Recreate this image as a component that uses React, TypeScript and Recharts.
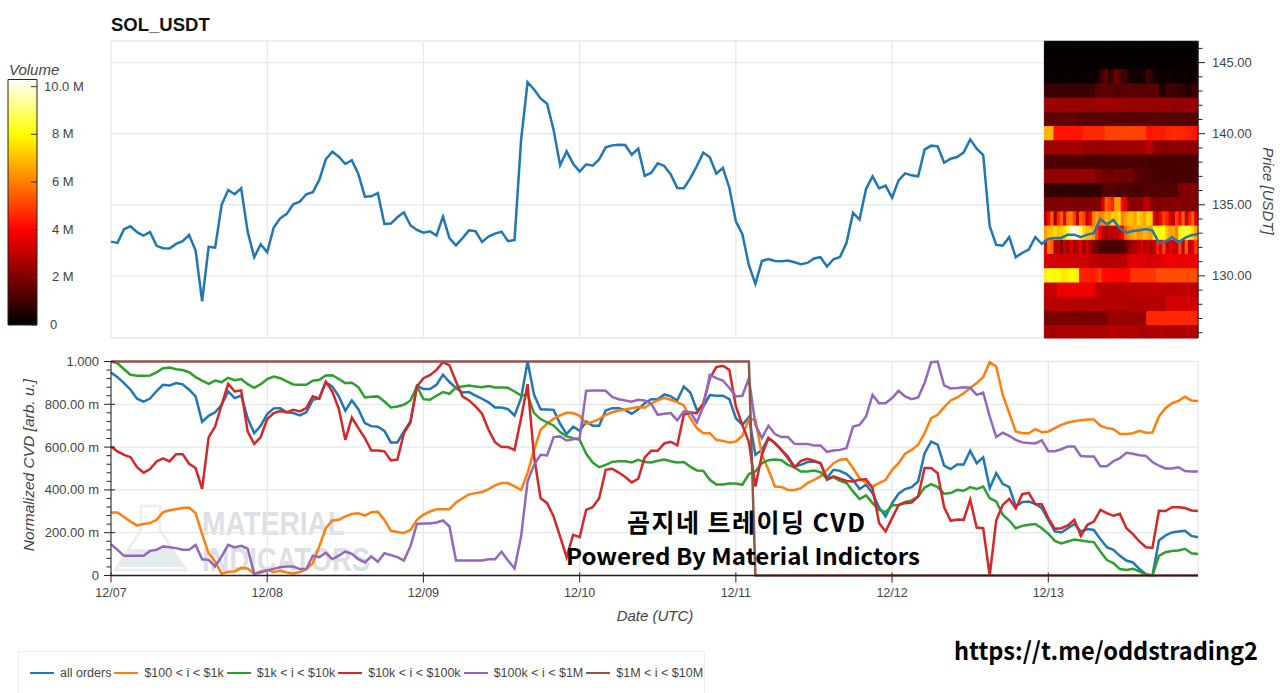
import { BarChart, Bar, LineChart, Line, XAxis, YAxis, CartesianGrid, ReferenceArea, Legend } from 'recharts';

const hours = [
  0, 1, 2, 3, 4, 5, 6, 7, 8, 9, 10, 11, 12, 13, 14, 15, 16, 17, 18, 19, 20, 21, 22, 23,
  24, 25, 26, 27, 28, 29, 30, 31, 32, 33, 34, 35, 36, 37, 38, 39, 40, 41, 42, 43, 44, 45, 46, 47,
  48, 49, 50, 51, 52, 53, 54, 55, 56, 57, 58, 59, 60, 61, 62, 63, 64, 65, 66, 67, 68, 69, 70, 71,
  72, 73, 74, 75, 76, 77, 78, 79, 80, 81, 82, 83, 84, 85, 86, 87, 88, 89, 90, 91, 92, 93, 94, 95,
  96, 97, 98, 99, 100, 101, 102, 103, 104, 105, 106, 107, 108, 109, 110, 111, 112, 113, 114, 115, 116, 117, 118, 119,
  120, 121, 122, 123, 124, 125, 126, 127, 128, 129, 130, 131, 132, 133, 134, 135, 136, 137, 138, 139, 140, 141, 142, 143,
  144, 145, 146, 147, 148, 149, 150, 151, 152, 153, 154, 155, 156, 157, 158, 159, 160, 161, 162, 163, 164, 165, 166, 167,
];

const price = [
  132.41, 132.32, 133.28, 133.49, 133.07, 132.83, 133.09, 132.11, 131.94, 131.92, 132.25, 132.44,
  132.88, 131.78, 128.2, 132.04, 131.99, 135.0, 136.04, 135.74, 136.16, 133.11, 131.31, 132.22,
  131.66, 133.4, 134.05, 134.36, 135.04, 135.22, 135.74, 135.88, 136.75, 138.2, 138.74, 138.38,
  137.87, 138.13, 137.17, 135.57, 135.6, 135.83, 133.65, 133.68, 134.12, 134.47, 133.56, 133.23,
  133.04, 133.14, 132.83, 134.17, 132.65, 132.15, 132.65, 133.2, 133.14, 132.39, 132.76, 132.97,
  133.11, 132.44, 132.53, 139.55, 143.63, 143.11, 142.48, 142.11, 140.26, 137.78, 138.76, 137.89,
  137.33, 137.85, 137.75, 138.2, 139.04, 139.18, 139.23, 139.2, 138.52, 138.95, 137.03, 137.26,
  137.92, 137.73, 137.14, 136.18, 136.16, 136.86, 137.73, 138.67, 138.34, 137.19, 137.59, 136.2,
  133.84, 132.93, 130.75, 129.44, 131.05, 131.19, 131.05, 131.03, 131.08, 130.96, 130.82, 130.91,
  131.22, 131.31, 130.66, 131.17, 131.33, 132.32, 134.43, 133.96, 136.11, 137.0, 136.16, 136.35,
  135.5, 136.72, 137.21, 137.07, 137.0, 138.88, 139.16, 139.11, 137.96, 138.24, 138.36, 138.69,
  139.6, 138.95, 138.5, 133.49, 132.18, 132.13, 132.72, 131.31, 131.62, 131.85, 132.72, 132.25,
  132.6, 132.67, 132.67, 132.9, 132.9, 132.72, 132.9, 133.0, 133.98, 133.63, 133.93, 133.35,
  133.04, 133.16, 133.21, 133.3, 133.18, 132.34, 132.39, 132.72, 132.34, 132.67, 132.86, 132.95,
];

const allOrders = [
  0.949, 0.927, 0.899, 0.868, 0.826, 0.812, 0.827, 0.862, 0.891, 0.888, 0.899, 0.893,
  0.868, 0.837, 0.718, 0.746, 0.763, 0.798, 0.86, 0.829, 0.841, 0.735, 0.665, 0.7,
  0.754, 0.781, 0.782, 0.763, 0.759, 0.748, 0.763, 0.821, 0.829, 0.904, 0.883, 0.837,
  0.77, 0.818, 0.777, 0.712, 0.698, 0.695, 0.676, 0.622, 0.622, 0.673, 0.72, 0.887,
  0.871, 0.871, 0.891, 0.938, 0.904, 0.876, 0.855, 0.857, 0.841, 0.826, 0.809, 0.785,
  0.785, 0.777, 0.748, 0.829, 1.0, 0.844, 0.777, 0.776, 0.774, 0.709, 0.661, 0.696,
  0.676, 0.72, 0.7, 0.7, 0.771, 0.782, 0.782, 0.773, 0.756, 0.777, 0.805, 0.824,
  0.824, 0.846, 0.837, 0.818, 0.883, 0.855, 0.774, 0.79, 0.843, 0.84, 0.84, 0.824,
  0.735, 0.704, 0.74, 0.564, 0.587, 0.642, 0.619, 0.587, 0.556, 0.509, 0.517, 0.53,
  0.533, 0.525, 0.455, 0.494, 0.489, 0.474, 0.447, 0.404, 0.424, 0.385, 0.318, 0.276,
  0.338, 0.382, 0.404, 0.413, 0.439, 0.572, 0.626, 0.611, 0.513, 0.497, 0.519, 0.519,
  0.583, 0.525, 0.552, 0.408, 0.478, 0.428, 0.413, 0.323, 0.343, 0.346, 0.335, 0.315,
  0.26, 0.206, 0.201, 0.221, 0.241, 0.206, 0.217, 0.213, 0.17, 0.132, 0.12, 0.092,
  0.07, 0.061, 0.03, 0.006, 0, 0.164, 0.187, 0.201, 0.206, 0.209, 0.185, 0.179,
];

const orders100to1k = [
  0.294, 0.294, 0.273, 0.252, 0.234, 0.241, 0.245, 0.26, 0.296, 0.305, 0.31, 0.315,
  0.318, 0.291, 0.193, 0.104, 0.065, 0.008, 0.017, 0.019, 0.036, 0.033, 0.008, 0.019,
  0.026, 0.017, 0.022, 0.014, 0.009, 0.016, 0.03, 0.058, 0.136, 0.221, 0.257, 0.26,
  0.276, 0.287, 0.291, 0.28, 0.296, 0.298, 0.26, 0.209, 0.203, 0.199, 0.213, 0.26,
  0.285, 0.299, 0.31, 0.31, 0.31, 0.341, 0.361, 0.379, 0.385, 0.39, 0.404, 0.421,
  0.432, 0.432, 0.416, 0.4, 0.478, 0.587, 0.681, 0.709, 0.732, 0.748, 0.76, 0.759,
  0.746, 0.709, 0.718, 0.731, 0.751, 0.763, 0.771, 0.776, 0.782, 0.787, 0.784, 0.805,
  0.818, 0.83, 0.821, 0.81, 0.795, 0.735, 0.689, 0.665, 0.665, 0.634, 0.629, 0.622,
  0.626, 0.653, 0.731, 0.728, 0.564, 0.494, 0.416, 0.414, 0.4, 0.4, 0.408, 0.432,
  0.447, 0.463, 0.494, 0.525, 0.541, 0.544, 0.502, 0.455, 0.432, 0.416, 0.432, 0.447,
  0.494, 0.525, 0.569, 0.587, 0.611, 0.665, 0.735, 0.751, 0.787, 0.818, 0.832, 0.852,
  0.876, 0.899, 0.927, 0.997, 0.977, 0.844, 0.759, 0.673, 0.665, 0.665, 0.684, 0.67,
  0.673, 0.689, 0.704, 0.715, 0.721, 0.726, 0.729, 0.729, 0.7, 0.689, 0.684, 0.662,
  0.661, 0.665, 0.676, 0.667, 0.668, 0.743, 0.782, 0.805, 0.816, 0.835, 0.818, 0.815,
];

const orders1kto10k = [
  1.0, 0.992, 0.964, 0.938, 0.933, 0.933, 0.935, 0.949, 0.969, 0.972, 0.964, 0.96,
  0.95, 0.927, 0.911, 0.896, 0.911, 0.904, 0.924, 0.913, 0.918, 0.894, 0.877, 0.894,
  0.918, 0.93, 0.922, 0.907, 0.893, 0.891, 0.891, 0.91, 0.915, 0.935, 0.936, 0.918,
  0.899, 0.901, 0.88, 0.832, 0.835, 0.837, 0.813, 0.785, 0.79, 0.798, 0.818, 0.883,
  0.824, 0.821, 0.84, 0.857, 0.849, 0.879, 0.883, 0.888, 0.883, 0.88, 0.885, 0.879,
  0.879, 0.877, 0.86, 0.841, 0.844, 0.759, 0.731, 0.715, 0.701, 0.67, 0.65, 0.642,
  0.634, 0.569, 0.528, 0.506, 0.517, 0.531, 0.534, 0.534, 0.528, 0.541, 0.53, 0.528,
  0.536, 0.542, 0.534, 0.528, 0.53, 0.509, 0.491, 0.489, 0.447, 0.425, 0.425, 0.43,
  0.43, 0.424, 0.474, 0.486, 0.525, 0.539, 0.542, 0.539, 0.517, 0.505, 0.486, 0.486,
  0.491, 0.483, 0.452, 0.46, 0.442, 0.432, 0.393, 0.357, 0.374, 0.338, 0.307, 0.296,
  0.327, 0.33, 0.344, 0.351, 0.369, 0.411, 0.427, 0.413, 0.382, 0.385, 0.4, 0.396,
  0.413, 0.404, 0.416, 0.361, 0.346, 0.284, 0.257, 0.221, 0.232, 0.237, 0.241, 0.221,
  0.195, 0.162, 0.15, 0.159, 0.168, 0.164, 0.159, 0.156, 0.112, 0.072, 0.058, 0.03,
  0.026, 0.031, 0.019, 0.005, 0, 0.092, 0.109, 0.114, 0.117, 0.125, 0.104, 0.1,
];

const orders10kto100k = [
  0.603, 0.58, 0.564, 0.553, 0.506, 0.48, 0.497, 0.533, 0.547, 0.533, 0.567, 0.567,
  0.522, 0.502, 0.405, 0.645, 0.696, 0.798, 0.896, 0.86, 0.865, 0.673, 0.615, 0.647,
  0.731, 0.759, 0.768, 0.763, 0.774, 0.767, 0.782, 0.837, 0.826, 0.907, 0.86, 0.779,
  0.634, 0.738, 0.689, 0.642, 0.584, 0.584, 0.58, 0.538, 0.542, 0.665, 0.715, 0.883,
  0.922, 0.936, 0.961, 0.997, 0.982, 0.907, 0.837, 0.818, 0.79, 0.756, 0.681, 0.623,
  0.6, 0.6, 0.587, 0.735, 0.894, 0.556, 0.361, 0.338, 0.276, 0.182, 0.086, 0.19,
  0.179, 0.307, 0.319, 0.361, 0.494, 0.499, 0.481, 0.46, 0.435, 0.452, 0.552, 0.583,
  0.583, 0.617, 0.625, 0.608, 0.751, 0.762, 0.759, 0.805, 0.922, 0.974, 0.98, 0.961,
  0.79, 0.704, 0.623, 0.416, 0.564, 0.642, 0.619, 0.587, 0.548, 0.505, 0.536, 0.545,
  0.536, 0.525, 0.447, 0.463, 0.452, 0.442, 0.439, 0.447, 0.45, 0.408, 0.245, 0.206,
  0.268, 0.329, 0.338, 0.341, 0.369, 0.502, 0.502, 0.478, 0.319, 0.256, 0.262, 0.26,
  0.354, 0.224, 0.221, 0, 0.257, 0.33, 0.358, 0.313, 0.38, 0.386, 0.333, 0.333,
  0.268, 0.218, 0.221, 0.234, 0.26, 0.185, 0.237, 0.252, 0.307, 0.291, 0.279, 0.288,
  0.221, 0.193, 0.159, 0.132, 0.129, 0.302, 0.301, 0.319, 0.319, 0.315, 0.304, 0.301,
];

const orders100kto1M = [
  0.146, 0.12, 0.092, 0.092, 0.092, 0.092, 0.115, 0.12, 0.136, 0.132, 0.128, 0.12,
  0.12, 0.143, 0.076, 0.073, 0.042, 0.089, 0.143, 0.131, 0.139, 0.125, 0.008, 0.014,
  0.023, 0.031, 0.039, 0.042, 0.042, 0.03, 0.03, 0.092, 0.086, 0.106, 0.076, 0.093,
  0.112, 0.101, 0.076, 0.061, 0.089, 0.064, 0.104, 0.095, 0.086, 0.07, 0.136, 0.241,
  0.243, 0.243, 0.248, 0.257, 0.229, 0.07, 0.07, 0.07, 0.07, 0.07, 0.076, 0.076,
  0.111, 0.07, 0.033, 0.182, 0.439, 0.517, 0.564, 0.561, 0.647, 0.65, 0.631, 0.637,
  0.642, 0.863, 0.865, 0.865, 0.863, 0.834, 0.824, 0.818, 0.812, 0.821, 0.818, 0.802,
  0.751, 0.756, 0.759, 0.725, 0.767, 0.763, 0.715, 0.79, 0.938, 0.922, 0.911, 0.876,
  0.837, 0.84, 0.922, 0.704, 0.642, 0.7, 0.661, 0.647, 0.647, 0.615, 0.614, 0.615,
  0.608, 0.608, 0.578, 0.584, 0.587, 0.595, 0.696, 0.704, 0.743, 0.844, 0.805, 0.805,
  0.829, 0.863, 0.837, 0.824, 0.832, 0.899, 0.997, 1.0, 0.888, 0.874, 0.876, 0.88,
  0.877, 0.844, 0.855, 0.743, 0.647, 0.667, 0.653, 0.634, 0.622, 0.619, 0.617, 0.631,
  0.581, 0.581, 0.59, 0.603, 0.603, 0.558, 0.556, 0.556, 0.511, 0.511, 0.534, 0.548,
  0.573, 0.569, 0.562, 0.559, 0.53, 0.513, 0.5, 0.5, 0.506, 0.488, 0.486, 0.486,
];

const orders1Mto10M = [
  1, 1, 1, 1, 1, 1, 1, 1, 1, 1, 1, 1,
  1, 1, 1, 1, 1, 1, 1, 1, 1, 1, 1, 1,
  1, 1, 1, 1, 1, 1, 1, 1, 1, 1, 1, 1,
  1, 1, 1, 1, 1, 1, 1, 1, 1, 1, 1, 1,
  1, 1, 1, 1, 1, 1, 1, 1, 1, 1, 1, 1,
  1, 1, 1, 1, 1, 1, 1, 1, 1, 1, 1, 1,
  1, 1, 1, 1, 1, 1, 1, 1, 1, 1, 1, 1,
  1, 1, 1, 1, 1, 1, 1, 1, 1, 1, 1, 1,
  1, 1, 1, 0, 0, 0, 0, 0, 0, 0, 0, 0,
  0, 0, 0, 0, 0, 0, 0, 0, 0, 0, 0, 0,
  0, 0, 0, 0, 0, 0, 0, 0, 0, 0, 0, 0,
  0, 0, 0, 0, 0, 0, 0, 0, 0, 0, 0, 0,
  0, 0, 0, 0, 0, 0, 0, 0, 0, 0, 0, 0,
  0, 0, 0, 0, 0, 0, 0, 0, 0, 0, 0, 0,
];

// volume per price bin (in millions), left to right over the last day
const vol146 = [0.05, 0.05, 0.05, 0.05, 0.05, 0.05, 0.05, 0.05, 0.05, 0.05, 0.05, 0.05, 0.05, 0.05, 0.05, 0.05, 0.05, 0.05, 0.05, 0.05, 0.05, 0.05, 0.05, 0.05];
const vol145 = [0.1, 0.1, 0.1, 0.1, 0.1, 0.1, 0.1, 0.1, 0.1, 0.1, 0.1, 0.1, 0.1, 0.1, 0.1, 0.1, 0.1, 0.1, 0.1, 0.1, 0.1, 0.1, 0.1, 0.1];
const vol144 = [0.15, 0.15, 0.15, 0.15, 0.15, 0.15, 0.15, 0.15, 0.15, 0.15, 0.15, 0.15, 0.15, 0.15, 0.15, 0.15, 0.2, 0.6, 1.2, 1.6, 0.6, 1.0, 1.8, 1.5, 0.9, 1.0, 0.3, 0.3, 0.3, 0.3, 0.3, 0.3, 1.0, 0.8, 0.3, 0.2, 0.2, 0.2, 0.2, 0.2, 0.2, 0.2, 0.2, 0.2, 0.2, 0.2, 0.2, 0.2];
const vol143 = [0.9, 0.9, 0.9, 0.9, 0.9, 0.9, 0.9, 0.9, 1.4, 1.5, 1.4, 1.3, 1.4, 1.5, 1.4, 1.3, 1.4, 1.4, 0.5, 1.0, 0.9, 0.8, 0.5, 0.9];
const vol142 = [2.5, 2.5, 2.4, 2.4, 2.4, 2.4, 2.4, 2.4, 2.5, 2.5, 2.5, 2.4, 2.4, 2.4, 2.4, 2.4, 2.4, 2.4, 2.4, 2.4, 2.3, 2.3, 2.4, 2.4];
const vol141 = [1.5, 1.5, 1.5, 1.5, 1.5, 1.4, 1.4, 1.4, 1.4, 1.4, 1.4, 1.4, 1.4, 1.4, 1.4, 1.4, 1.4, 1.4, 1.4, 1.4, 1.4, 1.3, 1.3, 1.3];
const vol140 = [6.8, 6.8, 6.8, 4.3, 4.3, 4.3, 4.3, 4.3, 4.3, 4.3, 4.3, 4.3, 4.6, 4.6, 4.6, 4.6, 4.6, 4.6, 4.6, 5, 5, 5, 5, 5, 5, 5, 5, 5, 5, 5, 5, 5, 4.3, 4.3, 4.4, 4.4, 4.4, 4.4, 4.6, 4.6, 4.7, 4.6, 4.6, 4.6, 4.5, 4.4, 4.4, 4.3];
const vol139 = [2.5, 2.5, 2.5, 2.5, 2.6, 2.6, 2.4, 2.4, 2.3, 2.4, 2.4, 2.4, 2.5, 2.5, 2.5, 2.5, 2.9, 2.2, 2.1, 2.1, 2.2, 2.2, 2.2, 2.2];
const vol138 = [1.2, 1.2, 1.2, 1.2, 1.2, 1.2, 1.2, 1.2, 1.2, 1.2, 1.2, 1.2, 1.2, 1.2, 1.2, 1.2, 1.1, 1.1, 1.1, 1.1, 1.1, 1.1, 1.1, 1.1];
const vol137 = [2.3, 2.3, 2.3, 2.3, 2.3, 2.3, 2.3, 2.3, 2.0, 1.8, 1.7, 1.9, 1.7, 1.8, 1.4, 1.3, 1.2, 1.1, 1.1, 1.1, 1.1, 1.1, 1.1, 1.1];
const vol136 = [0.8, 0.8, 0.8, 0.8, 0.8, 0.8, 0.8, 0.8, 0.8, 1.3, 1.4, 1.2, 1.3, 1.2, 1.1, 1.2, 1.3, 1.3, 1.3, 1.3, 1.3, 2.0, 2.0, 2.0];
const vol135 = [1.9, 1.9, 2, 2, 1.9, 2, 2, 2, 2, 1.9, 2, 2, 1.9, 2, 2, 2, 2, 2.1, 3.5, 5.5, 5, 4.5, 6.5, 6.5, 4, 3.6, 2.1, 2.2, 2.1, 2.3, 2.2, 3, 3, 2.2, 2.1, 1.9, 2, 2.2, 2.1, 2, 2.2, 2, 2.1, 1.9, 2, 2.1, 1.9, 2];
const vol134 = [3, 4, 5.5, 2.5, 4.5, 5.5, 3.5, 5.8, 6, 5, 3, 5.5, 5, 3, 4, 6, 6.5, 6, 6.2, 7, 6.5, 7.5, 7, 7.5, 6, 6.5, 7, 7, 6.5, 7.5, 7, 6.5, 7.5, 7.2, 3.5, 3, 4, 5, 4.5, 3.5, 3, 5, 4, 5.5, 3, 4.5, 5.5, 3.5];
const vol133 = [6.5, 7, 7, 7.5, 7, 7.2, 7.5, 8.5, 9.8, 10, 9.8, 9, 7.5, 7, 7, 6.5, 5, 4, 3, 2.5, 3, 2.8, 3, 3.2, 4, 5.5, 6.2, 6.5, 6.8, 6.3, 6.5, 6.9, 6.6, 6.3, 8, 8.2, 8, 8, 7, 6.5, 6.5, 6, 8, 8.5, 8.5, 8, 7.5, 6.5];
const vol132 = [3.5, 6, 5.5, 2.8, 3, 2, 3, 2.6, 3.5, 2.5, 3, 3.6, 2.5, 3.3, 2.4, 2, 1.8, 1.3, 1.2, 1.1, 1.2, 1.2, 1.1, 1.2, 1.3, 1.6, 2.2, 2.6, 2.5, 3, 3.3, 2.7, 3, 2.6, 3, 4.5, 3.5, 5, 3, 3.6, 3.3, 3, 5, 3, 5.5, 3, 3.5, 5];
const vol131 = [3.4, 3.3, 3.3, 3.3, 3.2, 3.2, 3.2, 3, 2.9, 2.8, 2.8, 2.8, 2.9, 3.5, 3.6, 3.5, 3.3, 3.4, 3.5, 3.8, 3.7, 3.6, 3.7, 3.6];
const vol130 = [7.8, 8.3, 8, 7.9, 8, 7.8, 7.6, 7.8, 8, 7.9, 7.8, 4.5, 4.5, 4.5, 4.4, 4.4, 4.6, 5, 4.2, 4.1, 4.1, 4.1, 4.1, 4.1, 4.1, 4.1, 4.1, 4.8, 4.8, 4.8, 4.8, 4.8, 4.8, 4.8, 4.8, 5.2, 5.2, 5.2, 5.2, 5.2, 5.2, 5.2, 5.2, 5.2, 5.2, 5.2, 5.2, 5.2];
const vol129 = [3.1, 3.1, 3.7, 3.7, 3.7, 3.7, 3.8, 3.8, 3.0, 2.9, 2.9, 2.9, 2.9, 2.9, 3, 3, 3, 3, 3, 3, 3, 3, 3, 3];
const vol128 = [2.8, 2.9, 2.9, 2.9, 2.9, 2.9, 2.8, 2.8, 2.8, 2.8, 2.8, 2.8, 2.8, 2.7, 2.7, 2.7, 2.8, 2.8, 2.8, 3.3, 3.3, 3.3, 3.3, 3.3];
const vol127 = [1.9, 1.9, 1.9, 1.9, 1.9, 1.9, 1.9, 1.9, 1.9, 1.9, 2.4, 2.4, 2.4, 2.4, 2.4, 2.4, 4.6, 4.6, 4.6, 4.6, 4.6, 4.6, 4.6, 4.6];
const vol126 = [2.6, 2.6, 2.7, 2.7, 2.7, 2.7, 2.7, 2.7, 2.7, 2.7, 2.9, 2.9, 2.8, 2.8, 2.8, 2.6, 2.7, 2.7, 2.8, 2.7, 2.7, 2.7, 2.8, 2.8];

const heatBins = [146, 145, 144, 143, 142, 141, 140, 139, 138, 137, 136, 135, 134, 133, 132, 131, 130, 129, 128, 127, 126];
const heatRows = [vol146, vol145, vol144, vol143, vol142, vol141, vol140, vol139, vol138, vol137, vol136, vol135, vol134, vol133, vol132, vol131, vol130, vol129, vol128, vol127, vol126];

const priceTicks = [126, 127, 128, 129, 130, 131, 132, 133, 134, 135, 136, 137, 138, 139, 140, 141, 142, 143, 144, 145, 146];
const priceGrid = [125.63, 130, 135, 140, 145, 146.52];
const cvdTicks = [0, 0.04, 0.08, 0.12, 0.16, 0.2, 0.24, 0.28, 0.32, 0.36, 0.4, 0.44, 0.48, 0.52, 0.56, 0.6, 0.64, 0.68, 0.72, 0.76, 0.8, 0.84, 0.88, 0.92, 0.96, 1];
const cvdGrid = [0, 0.2, 0.4, 0.6, 0.8, 1];
const cvdLabels: Record<string, string> = { '0': '0', '0.2': '200.00 m', '0.4': '400.00 m', '0.6': '600.00 m', '0.8': '800.00 m', '1': '1.000' };
const dayTicks = [0, 24, 48, 72, 96, 120, 144];
const dayLabels = ['12/07', '12/08', '12/09', '12/10', '12/11', '12/12', '12/13'];
const volumeTicks = [0, 2, 4, 6, 8, 10];
const volumeLabels = ['0', '2 M', '4 M', '6 M', '8 M', '10.0 M'];
const volumeTop = [{ name: 'volume', value: 10.3 }];

const priceData = hours.map((hour, i) => ({ hour, price: price[i] }));
const cvdData = hours.map((hour, i) => ({
  hour,
  all: allOrders[i],
  a: orders100to1k[i],
  b: orders1kto10k[i],
  c: orders10kto100k[i],
  d: orders100kto1M[i],
  e: orders1Mto10M[i],
}));

const FONT = '"Liberation Sans", Arial, sans-serif';
const INK = '#444';
const AXIS = '#222';
const GRID = '#e8e8e8';
const HEAT_START = 143.4;
const LAST_HOUR = 167;
const PRICE_MIN = 125.63;
const PRICE_MAX = 146.52;
const BLOCK = '"Noto Sans CJK KR", sans-serif';

// black -> red -> yellow -> white, same as the colour bar
function hot(v: number) {
  const c = (n: number) => Math.round(Math.max(0, Math.min(255, n)));
  if (v <= 4) return `rgb(${c((v / 4) * 255)},0,0)`;
  if (v <= 8) return `rgb(255,${c(((v - 4) / 4) * 255)},0)`;
  return `rgb(255,255,${c(((v - 8) / 2.2) * 255)})`;
}

function PriceTick({ y, payload }: any) {
  const major = payload.value % 5 === 0;
  return (
    <g>
      <line x1={1198} x2={major ? 1205 : 1202.5} y1={y} y2={y} stroke={AXIS} />
      {major && (
        <text x={1212} y={y + 4.5} fontSize={13} fontFamily={FONT} fill={INK}>
          {payload.value.toFixed(2)}
        </text>
      )}
    </g>
  );
}

function CvdTick({ y, payload }: any) {
  const label = cvdLabels[String(payload.value)];
  return (
    <g>
      <line x1={label ? 104 : 106.5} x2={label ? 115 : 111} y1={y} y2={y} stroke={AXIS} />
      {label && (
        <text x={99} y={y + 4.5} textAnchor="end" fontSize={13} fontFamily={FONT} fill={INK}>
          {label}
        </text>
      )}
    </g>
  );
}

function DayTick({ x, payload }: any) {
  return (
    <g>
      <line x1={x} x2={x} y1={227.5} y2={237.5} stroke={AXIS} />
      <text x={x} y={252} textAnchor="middle" fontSize={12.5} fontFamily={FONT} fill={INK}>
        {dayLabels[dayTicks.indexOf(payload.value)]}
      </text>
    </g>
  );
}

function VolumeTick({ y, payload }: any) {
  return (
    <g>
      <line x1={31} x2={37} y1={y} y2={y} stroke="#333" />
      <text x={payload.value === 0 ? 50 : payload.value === 10 ? 44 : 52} y={y + 4} fontSize={13} fontFamily={FONT} fill={INK}>
        {volumeLabels[volumeTicks.indexOf(payload.value)]}
      </text>
    </g>
  );
}

function LegendRow({ payload }: any) {
  return (
    <div style={{ display: 'flex', alignItems: 'center', height: 42, paddingLeft: 8, fontFamily: FONT, fontSize: 12.5, color: INK, whiteSpace: 'nowrap' }}>
      {(payload || []).map((entry: any) => (
        <span key={entry.value} style={{ display: 'flex', alignItems: 'center' }}>
          <span style={{ width: 24, height: 2.5, background: entry.color, marginRight: 6, marginLeft: 3 }} />
          {entry.value}
        </span>
      ))}
    </div>
  );
}

function Watermark() {
  return (
    <svg width={1280} height={693} style={{ position: 'absolute', left: 0, top: 0 }}>
      <path d="M141 506 H160 V530 L186 570 H115 L141 530 Z" fill="none" stroke="#eceeef" strokeWidth={2.5} />
      <path d="M128 549 H173 L183 567 H118 Z" fill="#e4ecef" />
      <g fontFamily={FONT} fontWeight="bold" fontSize={33} fill="#dcdfe3">
        <text x={202} y={535} textLength={143} lengthAdjust="spacingAndGlyphs">MATERIAL</text>
        <text x={202} y={571} textLength={168} lengthAdjust="spacingAndGlyphs">INDICATORS</text>
      </g>
    </svg>
  );
}

function PricePanel() {
  return (
    <div style={{ position: 'absolute', left: 0, top: 0 }}>
      <LineChart width={1280} height={345} data={priceData} margin={{ top: 41, right: 22, bottom: 7, left: 111 }}>
        <CartesianGrid stroke={GRID} strokeWidth={1.3} horizontalValues={priceGrid} verticalValues={[...dayTicks, LAST_HOUR]} />
        <XAxis dataKey="hour" type="number" domain={[0, LAST_HOUR]} ticks={dayTicks} hide />
        <YAxis
          orientation="right"
          width={60}
          type="number"
          domain={[PRICE_MIN, PRICE_MAX]}
          ticks={priceTicks}
          interval={0}
          axisLine={{ stroke: AXIS }}
          tickLine={false}
          tick={<PriceTick />}
        />
        {heatRows.map((row, r) =>
          row.map((v, c) => {
            const w = (LAST_HOUR - HEAT_START) / row.length;
            return (
              <ReferenceArea
                key={`${r}-${c}`}
                x1={HEAT_START + c * w}
                x2={HEAT_START + (c + 1) * w}
                y1={Math.max(heatBins[r] - 0.5, PRICE_MIN)}
                y2={Math.min(heatBins[r] + 0.5, PRICE_MAX)}
                fill={hot(v)}
                fillOpacity={1}
                stroke={hot(v)}
                strokeWidth={1}
              />
            );
          })
        )}
        <Line dataKey="price" stroke="#1f77b4" strokeWidth={2.5} dot={false} isAnimationActive={false} />
      </LineChart>
    </div>
  );
}

function CvdPanel() {
  return (
    <div style={{ position: 'absolute', left: 0, top: 345 }}>
      <LineChart width={1280} height={348} data={cvdData} margin={{ top: 16.5, right: 82, bottom: 87.5, left: 51 }}>
        <CartesianGrid stroke={GRID} strokeWidth={1.3} horizontalValues={cvdGrid} verticalValues={[...dayTicks, LAST_HOUR]} />
        <XAxis
          dataKey="hour"
          type="number"
          domain={[0, LAST_HOUR]}
          ticks={dayTicks}
          interval={0}
          height={30}
          axisLine={{ stroke: AXIS, strokeWidth: 1.5 }}
          tickLine={false}
          tick={<DayTick />}
        />
        <YAxis
          width={60}
          type="number"
          domain={[0, 1]}
          ticks={cvdTicks}
          interval={0}
          axisLine={{ stroke: AXIS }}
          tickLine={false}
          tick={<CvdTick />}
        />
        <Legend
          verticalAlign="middle"
          align="center"
          itemSorter={null}
          content={<LegendRow />}
          wrapperStyle={{ left: 18, top: 306, width: 687, height: 60, border: '1px solid #eee', boxSizing: 'border-box' }}
        />
        <Line dataKey="all" name="all orders" stroke="#1f77b4" strokeWidth={2.5} dot={false} isAnimationActive={false} />
        <Line dataKey="a" name="$100 < i < $1k" stroke="#ff7f0e" strokeWidth={2.5} dot={false} isAnimationActive={false} />
        <Line dataKey="b" name="$1k < i < $10k" stroke="#2ca02c" strokeWidth={2.5} dot={false} isAnimationActive={false} />
        <Line dataKey="c" name="$10k < i < $100k" stroke="#d62728" strokeWidth={2.5} dot={false} isAnimationActive={false} />
        <Line dataKey="d" name="$100k < i < $1M" stroke="#9467bd" strokeWidth={2.5} dot={false} isAnimationActive={false} />
        <Line dataKey="e" name="$1M < i < $10M" stroke="#8c564b" strokeWidth={2.5} dot={false} isAnimationActive={false} />
      </LineChart>
    </div>
  );
}

function VolumeBar() {
  return (
    <div style={{ position: 'absolute', left: 0, top: 0 }}>
      <BarChart width={100} height={340} data={volumeTop} barCategoryGap={0} margin={{ top: 79.5, right: 0, bottom: 15, left: 8 }}>
        <defs>
          <linearGradient id="volumeGrad" x1="0" y1="1" x2="0" y2="0">
            <stop offset="0%" stopColor={hot(0)} />
            <stop offset="38.8%" stopColor={hot(4)} />
            <stop offset="77.7%" stopColor={hot(8)} />
            <stop offset="100%" stopColor={hot(10.2)} />
          </linearGradient>
        </defs>
        <XAxis dataKey="name" hide />
        <YAxis
          orientation="right"
          width={63}
          type="number"
          domain={[0, 10.3]}
          ticks={volumeTicks}
          interval={0}
          axisLine={false}
          tickLine={false}
          tick={<VolumeTick />}
        />
        <Bar dataKey="value" fill="url(#volumeGrad)" stroke="#222" strokeWidth={1} isAnimationActive={false} />
      </BarChart>
    </div>
  );
}

function Labels() {
  return (
    <svg width={1280} height={693} style={{ position: 'absolute', left: 0, top: 0, pointerEvents: 'none' }}>
      <g fontFamily={FONT}>
        <text x={111} y={31} fontSize={18.5} fontWeight="bold" fill="#111">SOL_USDT</text>
        <text x={9} y={75} fontSize={15} fontStyle="italic" fill={INK}>Volume</text>
        <text x={655} y={621} textAnchor="middle" fontSize={15} fontStyle="italic" fill={INK}>Date (UTC)</text>
        <text transform="translate(1263,191) rotate(90)" textAnchor="middle" fontSize={15} fontStyle="italic" fill={INK}>Price [USDT]</text>
        <text transform="translate(34,465) rotate(-90)" textAnchor="middle" fontSize={15.5} fontStyle="italic" fill={INK}>Normalized CVD [arb. u.]</text>
      </g>
      <g fontFamily={BLOCK} fontWeight="bold" fill="#000">
        <text x={627} y={532} fontSize={25} textLength={238}>곰지네 트레이딩 CVD</text>
        <text x={743} y={565} textAnchor="middle" fontSize={23} textLength={354} lengthAdjust="spacingAndGlyphs">Powered By Material Indictors</text>
        <text x={954} y={660} fontSize={24} textLength={304} lengthAdjust="spacingAndGlyphs">https://t.me/oddstrading2</text>
      </g>
    </svg>
  );
}

export default function App() {
  return (
    <div style={{ position: 'absolute', left: 0, top: 0, width: 1280, height: 693, overflow: 'hidden', background: '#fff' }}>
      <Watermark />
      <PricePanel />
      <CvdPanel />
      <VolumeBar />
      <Labels />
    </div>
  );
}
